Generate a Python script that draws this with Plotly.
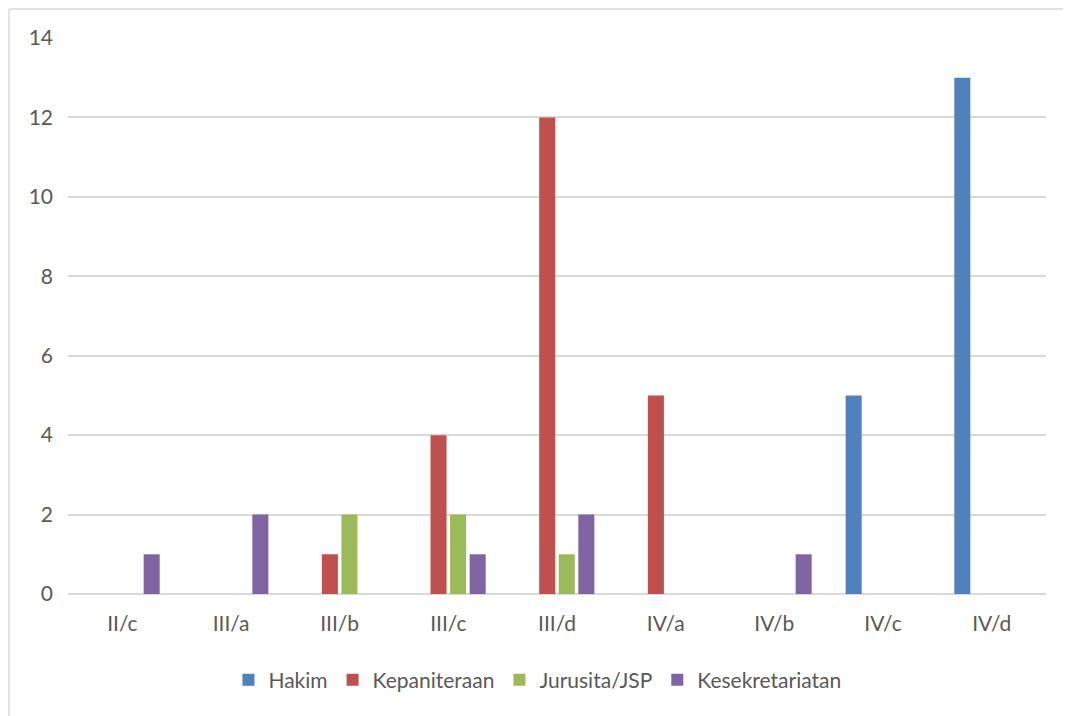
import plotly.graph_objects as go

categories = ["II/c", "III/a", "III/b", "III/c", "III/d", "IV/a", "IV/b", "IV/c", "IV/d"]
hakim = [0, 0, 0, 0, 0, 0, 0, 5, 13]
kepaniteraan = [0, 0, 1, 4, 12, 5, 0, 0, 0]
jurusita = [0, 0, 2, 2, 1, 0, 0, 0, 0]
kesekretariatan = [1, 2, 0, 1, 2, 0, 1, 0, 0]
y_ticks = [0, 2, 4, 6, 8, 10, 12, 14]

series = [
    ("Hakim", hakim, "#4F81BD"),
    ("Kepaniteraan", kepaniteraan, "#C0504D"),
    ("Jurusita/JSP", jurusita, "#9BBB59"),
    ("Kesekretariatan", kesekretariatan, "#8064A2"),
]

fig = go.Figure()
for name, vals, color in series:
    fig.add_trace(go.Bar(x=categories, y=vals, name=name, marker_color=color,
                         marker_line_width=0))

font_family = "Lato, 'Open Sans', sans-serif"
border = dict(color="#D9D9D9", width=1.5)
fig.update_layout(
    width=1063, height=708,
    barmode="group", bargap=0.28, bargroupgap=0.18,
    plot_bgcolor="white", paper_bgcolor="white",
    margin=dict(l=60, r=25, t=30, b=122),
    font=dict(family=font_family, size=21, color="#595959"),
    legend=dict(orientation="h", x=0.48, xanchor="center", y=-0.118, yanchor="top",
                font=dict(size=21, color="#595959"), traceorder="normal",
                itemwidth=30),
    xaxis=dict(showgrid=False, showline=False, ticks="", ticklabelstandoff=15,
               tickfont=dict(size=21)),
    yaxis=dict(range=[0, 14], tickvals=y_ticks, showgrid=True, gridcolor="#D9D9D9",
               gridwidth=1.5, zeroline=True, zerolinecolor="#D9D9D9", zerolinewidth=1.5,
               showline=False, ticks="", ticklabelstandoff=14, tickfont=dict(size=21)),
    shapes=[
        dict(type="line", xref="paper", yref="paper",
             x0=-59/978, x1=-59/978, y0=-0.3, y1=1+29/556, line=border),
        dict(type="line", xref="paper", yref="paper",
             x0=-59/978, x1=1.2, y0=1+29/556, y1=1+29/556, line=border),
    ],
)

fig.write_html("out.html")
